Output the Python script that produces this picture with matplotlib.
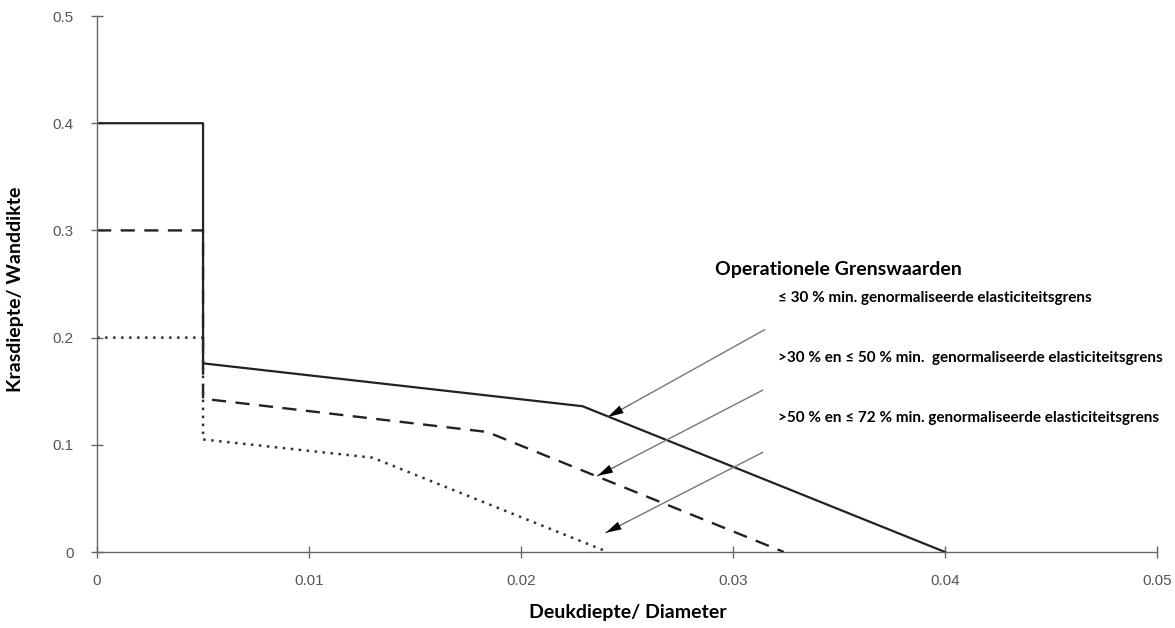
import numpy as np
import matplotlib.pyplot as plt

# grenslijnen (x = deukdiepte/diameter, y = krasdiepte/wanddikte)
x_30 = [0, 0.005, 0.005, 0.0229, 0.0400]
y_30 = [0.40, 0.40, 0.176, 0.136, 0.0]
x_50 = [0, 0.005, 0.005, 0.0184, 0.0324]
y_50 = [0.30, 0.30, 0.143, 0.112, 0.0]
x_72 = [0, 0.005, 0.005, 0.0130, 0.0241]
y_72 = [0.20, 0.20, 0.105, 0.088, 0.0]

labels = ['≤ 30 % min. genormaliseerde elasticiteitsgrens',
          '>30 % en ≤ 50 % min.  genormaliseerde elasticiteitsgrens',
          '>50 % en ≤ 72 % min. genormaliseerde elasticiteitsgrens']
label_y = [0.237, 0.181, 0.125]
arrow_start = [(0.0315, 0.2075), (0.0314, 0.151), (0.0314, 0.093)]
arrow_tip = [(0.0241, 0.126), (0.0236, 0.071), (0.0240, 0.018)]

xticks = [0, 0.01, 0.02, 0.03, 0.04, 0.05]
xticklabels = ['0', '0.01', '0.02', '0.03', '0.04', '0.05']
yticks = [0, 0.1, 0.2, 0.3, 0.4, 0.5]
yticklabels = ['0', '0.1', '0.2', '0.3', '0.4', '0.5']

fig = plt.figure(figsize=(11.75, 6.28), dpi=100)
ax = fig.add_axes([0.0826, 0.121, 0.9021, 0.8535])

ax.plot(x_30, y_30, color='#222222', lw=1.6, ls='-')
ax.plot(x_50, y_50, color='#222222', lw=1.7, ls=(0, (6, 4)))
ax.plot(x_72, y_72, color='#333333', lw=1.8, ls=(0, (1.0, 2.2)))

for s, t in zip(arrow_start, arrow_tip):
    ax.annotate('', xy=t, xytext=s,
                arrowprops=dict(arrowstyle='-', color='#777777', lw=1.0,
                                shrinkA=0, shrinkB=0))
    # zwarte pijlpunt
    ax.annotate('', xy=t, xytext=(t[0] + (s[0] - t[0]) * 0.15, t[1] + (s[1] - t[1]) * 0.15),
                arrowprops=dict(arrowstyle='-|>,head_length=1.1,head_width=0.3',
                                color='black', lw=0.1, shrinkA=0, shrinkB=0))

ax.text(0.02915, 0.2636, 'Operationele Grenswaarden', fontsize=14,
        fontweight='bold', family='Lato', va='center', ha='left')
for lab, yy in zip(labels, label_y):
    ax.text(0.0321, yy, lab, fontsize=11, fontweight='bold', family='Lato',
            va='center', ha='left')

ax.set_xlim(0, 0.05)
ax.set_ylim(0, 0.5)
ax.set_xticks(xticks)
ax.set_xticklabels(xticklabels, family='Liberation Sans')
ax.set_yticks(yticks)
ax.set_yticklabels(yticklabels, family='Liberation Sans')
ax.tick_params(direction='inout', length=8, width=1, colors='#666666',
               labelsize=11, labelcolor='#555555')
ax.tick_params(axis='x', pad=12)
ax.tick_params(axis='y', pad=13)
for sp in ['top', 'right']:
    ax.spines[sp].set_visible(False)
for sp in ['left', 'bottom']:
    ax.spines[sp].set_color('#666666')
    ax.spines[sp].set_linewidth(1.0)

fig.text(0.0128, 0.54, 'Krasdiepte/ Wanddikte', rotation=90, fontsize=14,
         fontweight='bold', family='Lato', va='center', ha='center')
fig.text(0.534, 0.025, 'Deukdiepte/ Diameter', fontsize=14,
         fontweight='bold', family='Lato', va='center', ha='center')

fig.savefig('out.png', dpi=100)
